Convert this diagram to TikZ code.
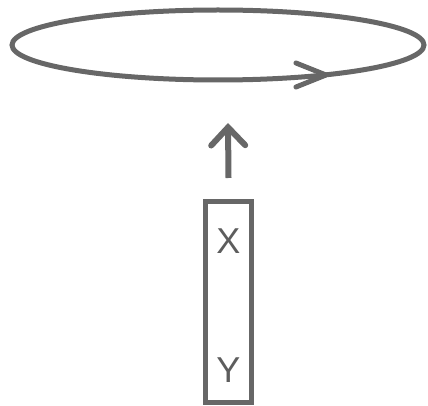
\documentclass[tikz,border=0pt]{standalone}
\usepackage{fontspec}
\setmainfont{Liberation Sans}
\usetikzlibrary{positioning,arrows.meta}
\definecolor{linegray}{HTML}{676767}

\begin{document}
\begin{tikzpicture}[x=1pt,y=-1pt,color=linegray,line width=5pt,
	label/.style={draw=none,text=linegray!90!black,font=\fontsize{36}{40}\selectfont},
	cellbox/.style={draw,minimum width=46pt,minimum height=201pt,inner sep=0pt}]
\useasboundingbox (0,0) rectangle (428,406);

% loop with its direction mark
\draw (218,45) ellipse (206 and 35);
\draw [line join=round,line cap=round] (296,63) -- (326,75) -- (296,87);

% the cell and its two entries
\path (228.5,302) node[cellbox] (cell) {};
\path (cell.north) ++(0,42) node[label] (x) {X};
\path (cell.south) ++(0,-35) node[label] (y) {Y};

% arrow up into the loop
\coordinate (base) at ([yshift=21pt]cell.north);
\coordinate (tip) at (228,123);
\draw [line width=6pt,-{Straight Barb[length=18pt,width=34pt,line cap=round]}] (base) -- (tip);

\end{tikzpicture}
\end{document}
